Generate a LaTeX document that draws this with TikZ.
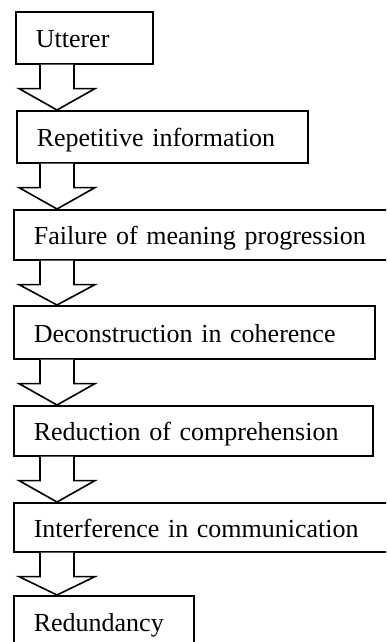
\documentclass[tikz,border=0pt]{standalone}
\usepackage{fontspec}
\setmainfont{Liberation Serif}
\usepackage{tikz}
\usetikzlibrary{positioning,calc}
\tikzset{
    stagebox/.style={draw, line width=1.6pt, anchor=north west, align=left,
        inner xsep=20pt, inner ysep=0pt, text height=20pt, text depth=0pt,
        font=\fontsize{26}{30}\selectfont},
    blockarrow/.style={draw, line width=1.6pt, fill=white, line join=miter}
}

\begin{document}
\begin{tikzpicture}[x=1pt, y=-1pt]
    \clip (0,0) rectangle (386,642);

    % Stages
    \node[stagebox, text width=97pt, minimum height=52pt] (utterer) at (15,11) {Utterer};
    \node[stagebox, text width=251pt, minimum height=52pt] (repet) at (16,110) {Repetitive information};
    \node[stagebox, text width=342pt, minimum height=50pt] (failure) at (13,209) {Failure of meaning progression};
    \node[stagebox, text width=321pt, minimum height=53pt] (decon) at (13,305) {Deconstruction in coherence};
    \node[stagebox, text width=319pt, minimum height=50pt] (reduct) at (13,405) {Reduction of comprehension};
    \node[stagebox, text width=342pt, minimum height=49pt] (interf) at (13,502) {Interference in communication};
    \node[stagebox, text width=140pt, minimum height=52pt] (redund) at (13,595) {Redundancy};

    % Block arrows between stages
    \coordinate (axis) at (57,0);
    \foreach \a/\b in {utterer/repet, repet/failure, failure/decon, decon/reduct, reduct/interf, interf/redund}
        \draw[blockarrow] ($(\a.south -| axis)+(-17,0)$) -- ($(\a.south -| axis)+(-17,24)$)
            -- ($(\a.south -| axis)+(-38,24)$) -- (\b.north -| axis)
            -- ($(\a.south -| axis)+(38,24)$) -- ($(\a.south -| axis)+(17,24)$)
            -- ($(\a.south -| axis)+(17,0)$);

\end{tikzpicture}
\end{document}
